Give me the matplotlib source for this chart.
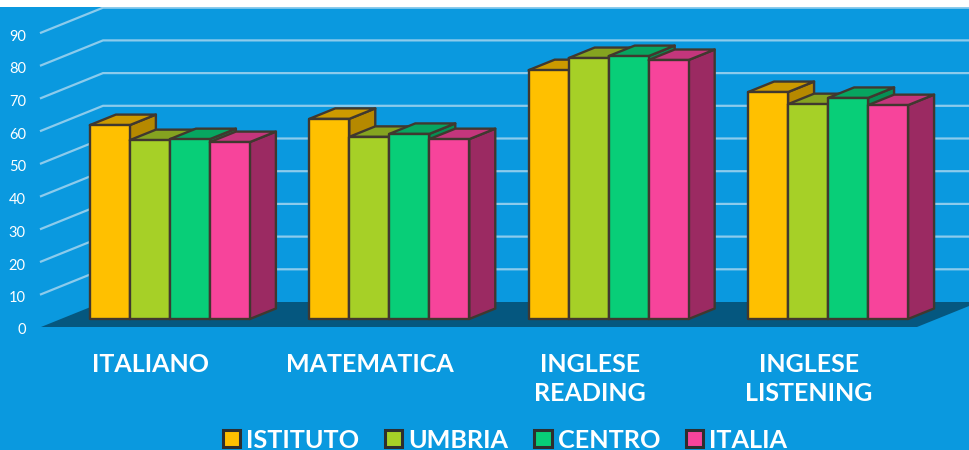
import matplotlib
matplotlib.use('Agg')
import matplotlib.pyplot as plt
from matplotlib.patches import Polygon, Patch

categories = ['ITALIANO', 'MATEMATICA', 'INGLESE\nREADING', 'INGLESE\nLISTENING']
series_names = ['ISTITUTO', 'UMBRIA', 'CENTRO', 'ITALIA']
istituto = [59.3, 61.2, 76.1, 69.4]
umbria = [54.7, 55.7, 79.8, 65.7]
centro = [55.0, 56.6, 80.4, 67.6]
italia = [54.1, 55.0, 79.2, 65.4]
y_ticks = [0, 10, 20, 30, 40, 50, 60, 70, 80, 90]

front = ['#FFC000', '#A6D027', '#08CE78', '#F7449B']
top = ['#CC9A00', '#85A320', '#07A560', '#C4367C']
side = ['#B68900', '#76931C', '#068F53', '#9B2A62']
BG = '#0A99DF'
FLOOR = '#05577F'
EDGE = '#40382F'
GRID = '#8CCBEC'

# one value unit = 3.27 px, one x unit = one bar width = 40 px
PX_Y = 3.27
PX_X = 40.0
WALL_DX = 62 / PX_X
WALL_DY = 25 / PX_Y
BAR_D0 = 0.32
BAR_D1 = 0.74
GROUP_STEP = 5.485
GROUP_START = 0.725


def proj(x, y, d):
    return (x + d * WALL_DX, y + d * WALL_DY)


fig = plt.figure(figsize=(9.7, 4.5), dpi=100, facecolor='white')
ax = fig.add_axes([0, 0, 1, 443 / 450])
ax.set_facecolor(BG)
ax.set_xlim(-41 / PX_X, (970 - 41) / PX_X)
ax.set_ylim((327 - 450) / PX_Y, (327 - 7) / PX_Y)
ax.axis('off')
ax.add_patch(plt.Rectangle((-2, -60), 40, 170, color=BG, zorder=0))

# floor
right_end = 21.9
ax.add_patch(Polygon([proj(0, 0, 0), proj(0, 0, 1), proj(right_end, 0, 1), proj(right_end, 0, 0)],
                     closed=True, facecolor=FLOOR, edgecolor='none', zorder=1))

# grid on the wall and back
for v in y_ticks[1:]:
    a = proj(0, v, 0)
    b = proj(0, v, 1)
    c = proj(30, v, 1)
    ax.plot([a[0], b[0], c[0]], [a[1], b[1], c[1]], color=GRID, lw=1.6, zorder=2,
            solid_joinstyle='miter')
    ax.text(-0.38, v - 1.2, str(v), color='white', fontsize=10.5, family='Lato',
            ha='right', va='center', zorder=5)
ax.text(-0.38, -0.9, '0', color='white', fontsize=10.5, family='Lato', ha='right', va='center', zorder=5)

# bars
all_series = [istituto, umbria, centro, italia]
z = 3
for g in range(len(categories)):
    x0 = GROUP_START + g * GROUP_STEP
    for s, vals in enumerate(all_series):
        xl = x0 + s
        xr = xl + 1
        v = vals[g]
        side_pts = [proj(xr, 0, BAR_D0), proj(xr, 0, BAR_D1), proj(xr, v, BAR_D1), proj(xr, v, BAR_D0)]
        top_pts = [proj(xl, v, BAR_D0), proj(xl, v, BAR_D1), proj(xr, v, BAR_D1), proj(xr, v, BAR_D0)]
        front_pts = [proj(xl, 0, BAR_D0), proj(xr, 0, BAR_D0), proj(xr, v, BAR_D0), proj(xl, v, BAR_D0)]
        for pts, col in [(side_pts, side[s]), (top_pts, top[s]), (front_pts, front[s])]:
            ax.add_patch(Polygon(pts, closed=True, facecolor=col, edgecolor=EDGE, lw=1.7,
                                 joinstyle='round', zorder=z))
            z += 0.01
    ax.text(x0 + 2.02, -8.0, categories[g], color='white', fontsize=18, fontweight='bold',
            family='Lato', ha='center', va='top', linespacing=1.32, zorder=5)

handles = [Patch(facecolor=front[i], edgecolor='#2E2E2E', lw=2.2, label=series_names[i]) for i in range(4)]
leg = ax.legend(handles=handles, loc='center', bbox_to_anchor=(505 / 970, 10 / 443), ncol=4,
                frameon=False, fontsize=18.2, handlelength=0.68, handleheight=0.68,
                handletextpad=0.24, columnspacing=1.03, borderpad=0, borderaxespad=0)
for t in leg.get_texts():
    t.set_color('white')
    t.set_fontweight('bold')
    t.set_family('Lato')

fig.savefig('out.png', dpi=100, facecolor='white')
